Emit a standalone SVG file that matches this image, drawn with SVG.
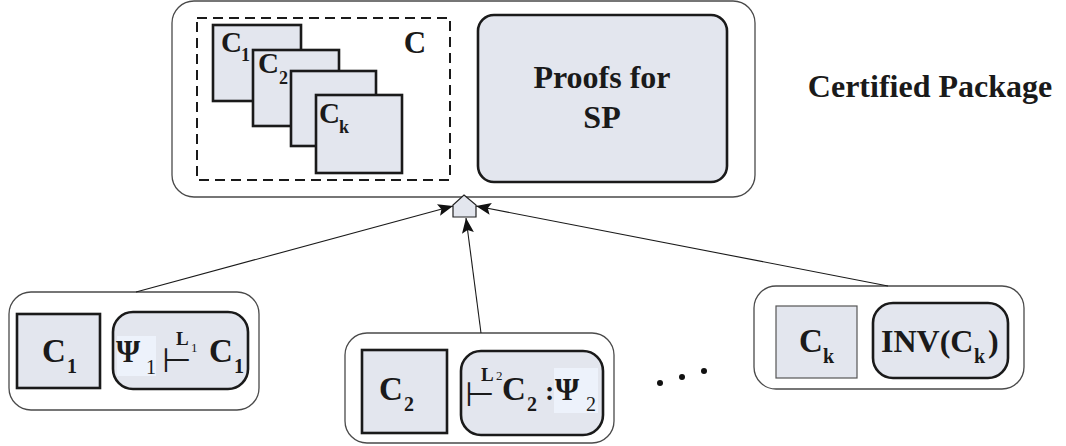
<svg xmlns="http://www.w3.org/2000/svg" width="1066" height="446" viewBox="0 0 1066 446">
  <style>
    .outer { fill: #ffffff; stroke: #4a4a4a; stroke-width: 1.3; }
    .comp { fill: #e3e6ee; stroke: #1a1a1a; stroke-width: 2.6; }
    .thin { fill: #e3e6ee; stroke: #555555; stroke-width: 1.2; }
    .hl { fill: #edf2fb; stroke: none; }
    .t { font-family: "Liberation Serif", "Times New Roman", serif; font-weight: bold; fill: #1a1a1a; }
    .m { font-family: "Liberation Serif", "Times New Roman", serif; fill: #1a1a1a; }
    .ts { font-family: "DejaVu Sans", sans-serif; fill: #1a1a1a; }
    .lb { font-family: "Liberation Serif", "Times New Roman", serif; font-weight: bold; }
    .lr { font-family: "Liberation Serif", "Times New Roman", serif; font-weight: normal; }
    .edge { stroke: #1a1a1a; stroke-width: 1.1; fill: none; marker-end: url(#arrow); }
  </style>
  <defs>
    <marker id="arrow" markerUnits="userSpaceOnUse" markerWidth="16" markerHeight="14" refX="15" refY="6" orient="auto">
      <path d="M0,0 L15,6 L0,12 L3,6 Z" fill="#111111"/>
    </marker>
  </defs>

  <!-- Certified package container -->
  <g id="package">
    <rect class="outer" x="172" y="1" width="583" height="196" rx="22"/>
    <rect x="197" y="18" width="253" height="162" fill="none" stroke="#1a1a1a" stroke-width="2" stroke-dasharray="10,6"/>
    <rect class="comp" x="213" y="25" width="88" height="76"/>
    <text class="t" x="221" y="52" font-size="29">C</text>
    <text class="t" x="241" y="61" font-size="18">1</text>
    <rect class="comp" x="253" y="50" width="86" height="76"/>
    <text class="t" x="258" y="73" font-size="29">C</text>
    <text class="t" x="279" y="84" font-size="18">2</text>
    <rect class="comp" x="291" y="71" width="85" height="75"/>
    <rect class="comp" x="316" y="95" width="86" height="78"/>
    <text class="t" x="319" y="123" font-size="29">C</text>
    <text class="t" x="339" y="133" font-size="18">k</text>
    <text class="t" x="415" y="53" font-size="31" text-anchor="middle">C</text>
    <rect class="comp" x="478" y="15" width="249" height="167" rx="16"/>
    <text class="t" x="602" y="88" font-size="32" text-anchor="middle">Proofs for</text>
    <text class="t" x="602" y="128" font-size="32" text-anchor="middle">SP</text>
  </g>

  <text id="caption" class="t" x="930" y="97" font-size="32" text-anchor="middle">Certified Package</text>

  <!-- Component C1 with its proof -->
  <g id="comp1">
    <rect class="outer" x="9" y="292" width="250" height="118" rx="22"/>
    <rect class="comp" x="17" y="314" width="83" height="74"/>
    <text class="t" x="42" y="362" font-size="33">C</text>
    <text class="t" x="67" y="373" font-size="20">1</text>
    <rect class="comp" x="113" y="312" width="135" height="77" rx="20"/>
    <rect class="hl" x="117" y="336" width="39" height="40"/>
    <text class="t" x="116" y="362" font-size="31">Ψ</text>
    <text class="m" x="146" y="374" font-size="20">1</text>
    <text class="ts" x="162" y="372" font-size="34">⊢<tspan class="lb" x="176" y="345" font-size="19">L</tspan><tspan class="lr" x="191" y="352" font-size="13">1</tspan></text>
    <text class="t" x="209" y="362" font-size="33">C</text>
    <text class="t" x="234" y="373" font-size="20">1</text>
  </g>

  <!-- Component C2 with its proof -->
  <g id="comp2">
    <rect class="outer" x="345" y="333" width="269" height="110" rx="22"/>
    <rect class="comp" x="362" y="350" width="85" height="83"/>
    <text class="t" x="379" y="400" font-size="33">C</text>
    <text class="t" x="404" y="411" font-size="20">2</text>
    <rect class="comp" x="461" y="351" width="142" height="84" rx="20"/>
    <rect class="hl" x="554" y="368" width="44" height="45"/>
    <text class="ts" x="465" y="406" font-size="34">⊢<tspan class="lb" x="481" y="381" font-size="19">L</tspan><tspan class="lr" x="496" y="380" font-size="13">2</tspan></text>
    <text class="t" x="502" y="400" font-size="33">C</text>
    <text class="t" x="527" y="411" font-size="20">2</text>
    <text class="t" x="545" y="400" font-size="28">:</text>
    <text class="t" x="555" y="400" font-size="31">Ψ</text>
    <text class="m" x="586" y="411" font-size="20">2</text>
  </g>

  <!-- Component Ck with its invariant -->
  <g id="compk">
    <rect class="outer" x="754" y="286" width="270" height="103" rx="22"/>
    <rect class="thin" x="776" y="306" width="81" height="72"/>
    <text class="t" x="799" y="352" font-size="33">C</text>
    <text class="t" x="823" y="363" font-size="20">k</text>
    <rect class="comp" x="873" y="303" width="135" height="75" rx="20"/>
    <text class="t" x="881" y="352" font-size="32">INV(C</text>
    <text class="t" x="974" y="363" font-size="20">k</text>
    <text class="t" x="988" y="352" font-size="32">)</text>
  </g>

  <!-- Ellipsis for further components -->
  <g id="more">
    <circle cx="660" cy="383" r="3" fill="#111111"/>
    <circle cx="682" cy="377" r="3" fill="#111111"/>
    <circle cx="704" cy="371" r="3" fill="#111111"/>
  </g>

  <!-- Composition point -->
  <g id="join">
    <polygon points="464,195 476,205 476,217 453,217 453,205" fill="#e3e6ee" stroke="#222222" stroke-width="1.2"/>
  </g>

  <g id="connectors">
    <line class="edge" x1="136" y1="292" x2="453" y2="206"/>
    <line class="edge" x1="481" y1="333" x2="466" y2="218"/>
    <line class="edge" x1="888" y1="286" x2="476" y2="206"/>
  </g>
</svg>
